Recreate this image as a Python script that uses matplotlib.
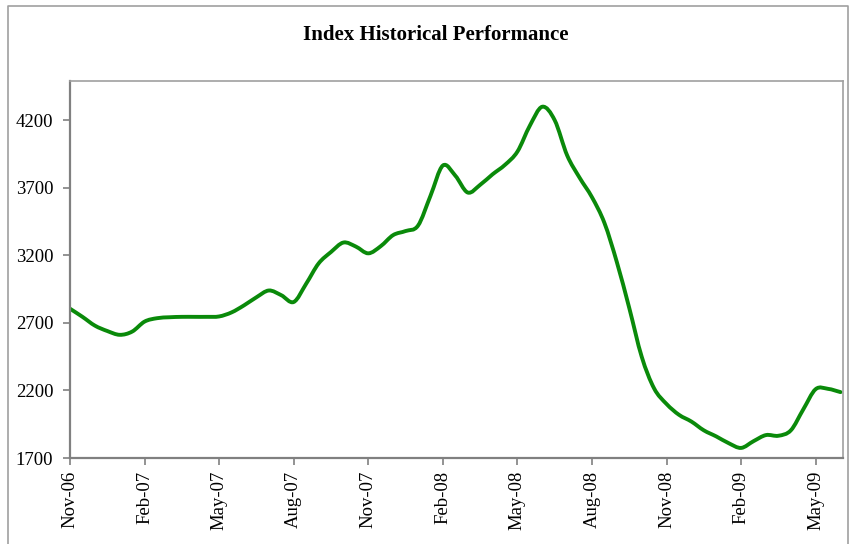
import numpy as np
import matplotlib
matplotlib.use("Agg")
import matplotlib.pyplot as plt
from matplotlib.lines import Line2D
from matplotlib.path import Path
from matplotlib.patches import PathPatch

# months since Nov-06, read every half month
months = np.arange(0, 31.5, 0.5)
index_vals = [2805, 2745, 2680, 2640, 2612, 2636, 2710, 2735, 2742, 2745,
              2745, 2745, 2748, 2778, 2830, 2890, 2940, 2905, 2855, 2990,
              3140, 3225, 3295, 3265, 3215, 3268, 3350, 3380, 3420, 3640,
              3865, 3790, 3665, 3722, 3800, 3870, 3968, 4160, 4300, 4200,
              3940, 3775, 3630, 3440, 3150, 2810, 2450, 2215, 2100, 2020,
              1970, 1905, 1860, 1810, 1775, 1825, 1870, 1865, 1905, 2060,
              2210, 2212, 2188]
tick_pos = [0, 3, 6, 9, 12, 15, 18, 21, 24, 27, 30]
tick_labels = ["Nov-06", "Feb-07", "May-07", "Aug-07", "Nov-07", "Feb-08",
               "May-08", "Aug-08", "Nov-08", "Feb-09", "May-09"]
y_ticks = [1700, 2200, 2700, 3200, 3700, 4200]

plt.rcParams['font.family'] = ['Liberation Serif', 'DejaVu Serif']

fig = plt.figure(figsize=(8.5, 5.44), dpi=100)
ax = fig.add_axes([0.0824, 0.158, 0.9094, 0.693])

# smoothed line like the spreadsheet one: bezier segments through the points
pts = np.column_stack([months, index_vals]).astype(float)
tang = np.gradient(pts, axis=0)
verts = [pts[0]]
codes = [Path.MOVETO]
for i in range(len(pts) - 1):
    verts += [pts[i] + tang[i] / 3, pts[i + 1] - tang[i + 1] / 3, pts[i + 1]]
    codes += [Path.CURVE4] * 3
ax.add_patch(PathPatch(Path(verts, codes), fill=False, edgecolor="#0a8a0a",
                       lw=2.8, joinstyle="round", capstyle="round"))

ax.set_xlim(0, 31.1)
ax.set_ylim(1700, 4490)
ax.set_xticks(tick_pos)
ax.set_xticklabels(tick_labels, rotation=90, fontsize=13.5)
ax.set_yticks(y_ticks)
ax.set_yticklabels([str(v) for v in y_ticks], fontsize=13.5)
ax.tick_params(direction="out", length=5, color="#808080", width=1.2, pad=4)
ax.tick_params(axis="y", pad=7)

for side in ["left", "bottom"]:
    ax.spines[side].set_color("#808080")
    ax.spines[side].set_linewidth(1.6)
for side in ["top", "right"]:
    ax.spines[side].set_color("#a0a0a0")
    ax.spines[side].set_linewidth(1.2)

fig.text(0.513, 0.935, "Index Historical Performance", ha="center", va="center",
         fontsize=15, fontweight="bold")

# outer chart border
x0, x1, y1 = 8 / 850, 848 / 850, 1 - 6 / 544
fig.add_artist(Line2D([x0, x0, x1, x1], [0, y1, y1, 0], color="#a0a0a0", lw=1.2,
                      transform=fig.transFigure))

fig.savefig("out.png", dpi=100)
